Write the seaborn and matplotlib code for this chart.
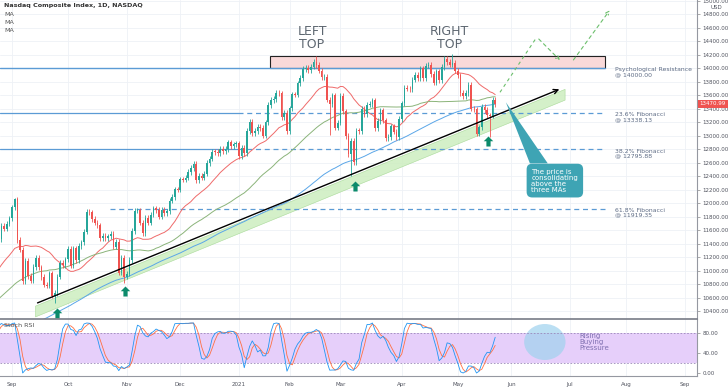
import numpy as np
import pandas as pd
import seaborn as sns
import matplotlib.pyplot as plt
from matplotlib.patches import Rectangle, Polygon, Ellipse
from matplotlib.path import Path

sns.set_style('white')
plt.rcParams['font.family'] = ['DejaVu Sans']

# daily closes, Nasdaq Composite (Apr 2020 - May 2021)
c_2020_04 = [8091, 8153, 8192, 8515, 8393, 8532, 8650, 8561, 8263, 8495, 8494, 8634, 8730, 8607, 8915, 8890]
c_2020_05 = [8605, 8710, 8810, 8854, 8980, 9121, 9192, 9002, 8863, 8943, 9015, 9234, 9185, 9376, 9285, 9325,
             9341, 9413, 9369, 9490]
c_2020_06 = [9552, 9609, 9683, 9616, 9814, 9924, 9953, 10020, 9493, 9589, 9726, 9896, 9910, 9943, 9946, 10056,
             10131, 9909, 10017, 9757, 9875, 10059]
c_2020_07 = [10155, 10208, 10434, 10344, 10493, 10548, 10617, 10391, 10489, 10551, 10474, 10503, 10767, 10680,
             10706, 10462, 10363, 10536, 10403, 10543, 10587, 10745]
c_2020_08 = [10902, 10941, 11000, 11108, 11011, 10968, 10782, 11012, 11042, 11019, 11129, 11210, 11146, 11265,
             11312, 11380, 11466, 11665, 11625, 11696, 11775]
c_2020_09 = [11939, 12056, 11458, 11313, 10847, 11142, 10920, 10854, 11056, 11190, 11050, 10910, 10793, 10779,
             10963, 10633, 10672, 10914, 11118, 11086, 11168]
c_2020_10 = [11326, 11076, 11332, 11155, 11364, 11420, 11580, 11876, 11863, 11768, 11714, 11672, 11479, 11517,
             11485, 11507, 11548, 11358, 11431, 10971, 11186, 10912]
c_2020_11 = [10958, 11161, 11590, 11891, 11896, 11713, 11554, 11787, 11710, 11830, 11925, 11899, 11802, 11905,
             11855, 11881, 12037, 12095, 12206, 12199]
c_2020_12 = [12355, 12350, 12377, 12464, 12520, 12583, 12339, 12405, 12378, 12440, 12596, 12658, 12765, 12756,
             12743, 12807, 12771, 12805, 12900, 12850, 12870, 12888]
c_2021_01 = [12698, 12819, 12741, 13067, 13202, 13036, 13072, 13129, 13112, 12999, 13197, 13457, 13530, 13543,
             13635, 13626, 13271, 13337, 13070]
c_2021_02 = [13403, 13612, 13610, 13777, 13856, 13987, 14007, 13973, 14025, 14095, 14047, 13965, 13865, 13874,
             13533, 13465, 13597, 13119, 13192]
c_2021_03 = [13589, 13359, 12998, 12723, 12920, 12609, 13073, 13068, 13398, 13320, 13460, 13472, 13525, 13117,
             13215, 13377, 13228, 12962, 12978, 13139, 13059, 12977, 13247]
c_2021_04 = [13480, 13705, 13698, 13688, 13830, 13900, 13850, 13996, 13857, 14039, 14052, 13914, 13787, 13951,
             13818, 14017, 14138, 14090, 14051, 14082, 13962]
c_2021_05 = [13895, 13634, 13582, 13633, 13752, 13402, 13389, 13032, 13125, 13430, 13379, 13303, 13299, 13536,
             13471]

# notable intraday extremes
wick_highs = {'2020-09-02': 12074, '2021-02-16': 14175, '2021-04-29': 14211}
wick_lows = {'2020-09-24': 10520, '2020-10-30': 10822, '2021-02-23': 13003, '2021-03-05': 12397,
             '2021-05-13': 13000, '2021-05-19': 12986}

holidays = ['2020-04-10', '2020-05-25', '2020-07-03', '2020-09-07', '2020-11-26', '2020-12-25',
            '2021-01-01', '2021-01-18', '2021-02-15', '2021-04-02', '2021-05-31', '2021-07-05', '2021-09-06']

psych = 14000.00
fib_236, fib_382, fib_618 = 13338.13, 12795.88, 11919.35
last_price = 13470.99
month_labels = ['Sep', 'Oct', 'Nov', 'Dec', '2021', 'Feb', 'Mar', 'Apr', 'May', 'Jun', 'Jul', 'Aug', 'Sep']

closes = (c_2020_04 + c_2020_05 + c_2020_06 + c_2020_07 + c_2020_08 + c_2020_09 + c_2020_10 + c_2020_11
          + c_2020_12 + c_2021_01 + c_2021_02 + c_2021_03 + c_2021_04 + c_2021_05)

dates = pd.bdate_range('2020-04-08', '2021-09-30', freq='C', holidays=holidays)
start = dates.get_loc(pd.Timestamp('2020-09-01'))
pos = np.arange(len(dates)) - start

df = pd.DataFrame({'date': dates[:len(closes)], 'x': pos[:len(closes)].astype(float),
                   'close': np.array(closes, dtype=float)})
df['open'] = df['close'].shift(1).fillna(df['close'])
df['high'] = df[['open', 'close']].max(axis=1) + 40
df['low'] = df[['open', 'close']].min(axis=1) - 40
for d, v in wick_highs.items():
    df.loc[df['date'] == pd.Timestamp(d), 'high'] = v
for d, v in wick_lows.items():
    df.loc[df['date'] == pd.Timestamp(d), 'low'] = v

df['ma20'] = df['close'].rolling(20).mean()
df['ma50'] = df['close'].rolling(50).mean()
df['ma100'] = df['close'].rolling(100).mean()

# stoch rsi 14,14,3,3
delta = df['close'].diff()
gain = delta.clip(lower=0).ewm(alpha=1 / 14, adjust=False).mean()
loss = (-delta.clip(upper=0)).ewm(alpha=1 / 14, adjust=False).mean()
rsi = 100 - 100 / (1 + gain / loss)
st = (rsi - rsi.rolling(14).min()) / (rsi.rolling(14).max() - rsi.rolling(14).min()) * 100
df['k'] = st.rolling(3).mean()
df['d'] = df['k'].rolling(3).mean()

vis = df[df['x'] >= -6]

W, H = 728, 390
fig = plt.figure(figsize=(W / 100, H / 100), dpi=100)
ax = fig.add_axes([0, (H - 319) / H, 697 / W, 319 / H])
ax2 = fig.add_axes([0, (H - 376) / H, 697 / W, 57 / H], sharex=ax)

xmin, xmax = -4.5, 256.6
ax.set_xlim(xmin, xmax)
ax.set_ylim(10285, 15010)
ax2.set_ylim(-6, 108)

grid_c = '#eef1f6'
month_pos = [pos[(dates.year == y) & (dates.month == m)][0]
             for y, m in [(2020, 9), (2020, 10), (2020, 11), (2020, 12), (2021, 1), (2021, 2), (2021, 3),
                          (2021, 4), (2021, 5), (2021, 6), (2021, 7), (2021, 8), (2021, 9)]]
for a in (ax, ax2):
    for mp in month_pos:
        a.axvline(mp, color=grid_c, lw=0.6, zorder=0)
for p in np.arange(10400, 15001, 200):
    ax.axhline(p, color=grid_c, lw=0.6, zorder=0)

# green support channel + trendline
tx = np.array([8.6, 207])
ty = np.array([10508, 10508 + (207 - 8.6) * (13703 - 10508) / (206 - 8.6)])
ax.fill_between(tx, ty - 25, ty - 185, color='#cdeec0', alpha=0.85, lw=0.4, ec='#9fd58d', zorder=1)
ax.annotate('', xy=(206, 13703), xytext=(8.6, 10508),
            arrowprops=dict(arrowstyle='->', color='black', lw=1.0, mutation_scale=8), zorder=5)

# resistance zone and levels
ax.add_patch(Rectangle((96.6, psych), 222.1 - 96.6, 185, fc='#f9d9d9', ec='#222222', lw=0.8, zorder=2))
ax.plot([xmin, 222.1], [psych, psych], color='#5b9bd5', lw=1.0, zorder=2)
for lev in (fib_236, fib_382):
    ax.plot([xmin, 84.6], [lev, lev], color='#5b9bd5', lw=0.9, zorder=2)
    ax.plot([84.6, 222.1], [lev, lev], color='#5b9bd5', lw=0.9, ls=(0, (4, 3)), zorder=2)
ax.plot([36.7, 222.1], [fib_618, fib_618], color='#5b9bd5', lw=0.9, ls=(0, (4, 3)), zorder=2)

lab_c = '#5d6b84'
for lev, txt in [(psych, 'Psychological Resistance\n@ 14000.00'), (fib_236, '23.6% Fibonacci\n@ 13338.13'),
                 (fib_382, '38.2% Fibonacci\n@ 12795.88'), (fib_618, '61.8% Fibonacci\n@ 11919.35')]:
    ax.text(225.8, lev - 60, txt, fontsize=4.4, color=lab_c, va='center', ha='left', linespacing=0.95)

# moving averages
sns.lineplot(x=vis['x'], y=vis['ma20'], ax=ax, color='#ef6a6a', lw=0.7, zorder=3, legend=False)
sns.lineplot(x=vis['x'], y=vis['ma50'], ax=ax, color='#8bb47a', lw=0.7, zorder=3, legend=False)
sns.lineplot(x=vis['x'], y=vis['ma100'], ax=ax, color='#5aa6e8', lw=0.7, zorder=3, legend=False)

# candles
up = vis['close'] >= vis['open']
cols = np.where(up, '#26a69a', '#ef5350')
ax.vlines(vis['x'], vis['low'], vis['high'], colors=cols, lw=0.6, zorder=4)
body = (vis['close'] - vis['open']).abs().clip(lower=10)
ax.bar(vis['x'], body, bottom=vis[['open', 'close']].min(axis=1), width=0.62, color=cols, lw=0, zorder=4)

# projected path
ax.annotate('', xy=(206, 14089), xytext=(196.6, 14461),
            arrowprops=dict(arrowstyle='->', color='#6cbf6c', lw=0.8, ls=(0, (3, 3)), mutation_scale=6))
ax.plot([182.8, 196.6], [13643, 14461], color='#6cbf6c', lw=0.8, ls=(0, (3, 3)))
ax.annotate('', xy=(224.5, 14890), xytext=(209.7, 14089),
            arrowprops=dict(arrowstyle='->', color='#6cbf6c', lw=0.8, ls=(0, (3, 3)), mutation_scale=6))

# up arrows
arrow = Path([(0, 1), (0.95, 0.05), (0.42, 0.05), (0.42, -1), (-0.42, -1), (-0.42, 0.05), (-0.95, 0.05), (0, 1)],
             [Path.MOVETO] + [Path.LINETO] * 6 + [Path.CLOSEPOLY])
ax.scatter([16.9, 42.3, 128.5, 178.3], [10374, 10701, 12261, 12915], marker=arrow, s=52,
           color='#0b8a6b', lw=0, zorder=6)

ax.text(112.4, 14450, 'LEFT\nTOP', fontsize=9, color='#5d6670', ha='center', va='center', linespacing=0.95)
ax.text(164.0, 14450, 'RIGHT\nTOP', fontsize=9, color='#5d6670', ha='center', va='center', linespacing=0.95)

# callout
teal = '#3ea4b4'
ax.add_patch(Polygon([(185, 13495), (194, 12590), (200.7, 12590)], closed=True, fc=teal, ec='none', zorder=6))
ax.text(194.6, 12335, 'The price is\nconsolidating\nabove the\nthree MAs', fontsize=5, color='white',
        ha='left', va='center', linespacing=1.0, zorder=7,
        bbox=dict(boxstyle='round,pad=0.7,rounding_size=0.8', fc=teal, ec='none'))

# price axis
ax.yaxis.tick_right()
ticks = np.arange(10400, 15001, 200)
ax.set_yticks(ticks)
ax.set_yticklabels([f'{t:.2f}' for t in ticks], fontsize=4, color='#50535e')
ax.tick_params(axis='y', length=2, width=0.5, color='#888888', pad=2)
ax.tick_params(axis='x', bottom=False, labelbottom=False)
ax.text(1.004, last_price, f'{last_price:.2f}', transform=ax.get_yaxis_transform(), fontsize=4, color='white',
        va='center', ha='left', bbox=dict(boxstyle='square,pad=0.3', fc='#ef5350', ec='none'), clip_on=False)
ax.text(1.02, 14905, 'USD', transform=ax.get_yaxis_transform(), fontsize=4, color='#50535e', va='center')
for s in ('top', 'left', 'bottom'):
    ax.spines[s].set_visible(False)
ax.spines['right'].set_color('#9598a1')
ax.spines['right'].set_linewidth(0.8)

fig.text(4 / W, 1 - 6 / H, 'Nasdaq Composite Index, 1D, NASDAQ', fontsize=4.6, color='#333333',
         fontweight='semibold', va='center')
for i in range(3):
    fig.text(4 / W, 1 - (14 + 8 * i) / H, 'MA', fontsize=4.6, color='#555555', va='center')

# stoch rsi panel
ax2.fill_between([xmin, xmax], 20, 80, color='#e6cffa', lw=0, zorder=0)
ax2.axhline(80, color='#9a88b8', lw=0.6, ls=(0, (2, 2)))
ax2.axhline(20, color='#9a88b8', lw=0.6, ls=(0, (2, 2)))
ax2.add_patch(Ellipse((199.6, 62), 15.5, 72, fc='#9fd2ee', alpha=0.7, ec='none', zorder=1))
sns.lineplot(x=vis['x'], y=vis['d'], ax=ax2, color='#ff7043', lw=0.6, zorder=3, legend=False)
sns.lineplot(x=vis['x'], y=vis['k'], ax=ax2, color='#2196f3', lw=0.6, zorder=3, legend=False)
ax2.text(212.7, 62, 'Rising\nBuying\nPressure', fontsize=5, color='#7e6fb0', va='center', ha='left',
         linespacing=1.0)
ax2.text(4 / 697, 95, 'Stoch RSI', transform=ax2.get_yaxis_transform(), fontsize=4.6, color='#555555',
         va='center')

ax2.yaxis.tick_right()
ax2.set_yticks([0, 40, 80])
ax2.set_yticklabels(['0.00', '40.00', '80.00'], fontsize=4, color='#50535e')
ax2.tick_params(axis='y', length=2, width=0.5, color='#888888', pad=2)
ax2.set_xticks(month_pos)
ax2.set_xticklabels(month_labels, fontsize=4, color='#50535e')
ax2.tick_params(axis='x', length=2, width=0.5, color='#888888', pad=2)
ax2.spines['left'].set_visible(False)
ax2.spines['top'].set_color('#787b86')
ax2.spines['top'].set_linewidth(1.2)
for s in ('bottom', 'right'):
    ax2.spines[s].set_color('#9598a1')
    ax2.spines[s].set_linewidth(0.8)
ax.set_xlabel('')
ax.set_ylabel('')
ax2.set_xlabel('')
ax2.set_ylabel('')

fig.savefig('out.png', dpi=100)
